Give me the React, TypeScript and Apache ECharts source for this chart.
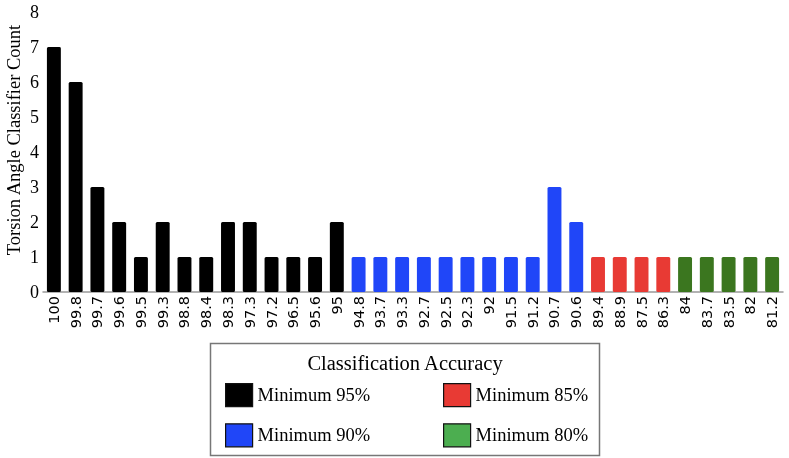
import React, { useEffect, useRef } from "react";
import * as echarts from "echarts";

const categories = ["100","99.8","99.7","99.6","99.5","99.3","98.8","98.4","98.3","97.3","97.2","96.5","95.6","95","94.8","93.7","93.3","92.7","92.5","92.3","92","91.5","91.2","90.7","90.6","89.4","88.9","87.5","86.3","84","83.7","83.5","82","81.2"];
const counts = [7,6,3,2,1,2,1,1,2,2,1,1,1,2, 1,1,1,1,1,1,1,1,1,3,2, 1,1,1,1, 1,1,1,1,1];
const groupNames = ["Minimum 95%", "Minimum 90%", "Minimum 85%", "Minimum 80%"];
const groupSizes = [14, 11, 4, 5];
const barColors = ["#000000", "#2046f8", "#e83a34", "#3b761f"];
const legendColors = ["#000000", "#2046f8", "#e83a34", "#4cae50"];
const yTicks = [0, 8, 1];
const yTitle = "Torsion Angle Classifier Count";
const legendTitle = "Classification Accuracy";

export default function App() {
  const ref = useRef<HTMLDivElement>(null);
  useEffect(() => {
    if (!ref.current) return;
    const chart = echarts.init(ref.current, undefined, { renderer: "svg" });
    let start = 0;
    const series = groupNames.map((name, g) => {
      const end = start + groupSizes[g];
      const data = categories.map((_, i) => (i >= start && i < end ? { value: counts[i], itemStyle: { color: barColors[g] } } : "-"));
      start = end;
      return {
        name,
        type: "bar",
        stack: "all",
        barWidth: "64%",
        itemStyle: { color: legendColors[g], borderRadius: 1.5 },
        data,
      };
    });
    const serif = "'Liberation Serif', 'Times New Roman', serif";
    chart.setOption({
      animation: false,
      grid: { left: 43, right: 6, top: 12, bottom: 166 },
      xAxis: {
        type: "category",
        data: categories,
        axisLine: { lineStyle: { color: "#999", width: 1.5 } },
        axisTick: { show: false },
        axisLabel: {
          interval: 0,
          rotate: 90,
          margin: 4,
          color: "#000",
          fontSize: 14.5,
          fontFamily: "'DejaVu Sans', Verdana, sans-serif",
        },
      },
      yAxis: {
        type: "value",
        min: yTicks[0],
        max: yTicks[1],
        interval: yTicks[2],
        axisLine: { show: false },
        axisTick: { show: false },
        splitLine: { show: false },
        axisLabel: { color: "#000", fontSize: 18, fontFamily: serif, margin: 4 },
      },
      legend: [
        {
          left: 220,
          top: 378,
          orient: "vertical",
          data: [groupNames[0], groupNames[1]],
          icon: "rect",
          itemWidth: 27,
          itemHeight: 23,
          itemGap: 16,
          selectedMode: false,
          itemStyle: { borderColor: "#111", borderWidth: 1.2 },
          textStyle: { fontFamily: serif, fontSize: 18.5, color: "#000" },
        },
        {
          left: 438,
          top: 378,
          orient: "vertical",
          data: [groupNames[2], groupNames[3]],
          icon: "rect",
          itemWidth: 27,
          itemHeight: 23,
          itemGap: 16,
          selectedMode: false,
          itemStyle: { borderColor: "#111", borderWidth: 1.2 },
          textStyle: { fontFamily: serif, fontSize: 18.5, color: "#000" },
        },
      ],
      graphic: [
        {
          type: "text",
          x: 14,
          y: 140,
          rotation: Math.PI / 2,
          style: {
            text: yTitle,
            fontFamily: serif,
            fontSize: 18.5,
            fill: "#000",
            align: "center",
            verticalAlign: "middle",
          },
        },
        {
          type: "rect",
          shape: { x: 210.5, y: 343.5, width: 389, height: 112 },
          style: { fill: "none", stroke: "#777", lineWidth: 1.5 },
          silent: true,
        },
        {
          type: "text",
          x: 405,
          y: 363,
          style: {
            text: legendTitle,
            fontFamily: serif,
            fontSize: 20.5,
            fill: "#000",
            align: "center",
            verticalAlign: "middle",
          },
        },
      ],
      series,
    });
    return () => chart.dispose();
  }, []);
  return <div ref={ref} style={{ position: "fixed", left: 0, top: 0, width: 789, height: 458 }} />;
}
